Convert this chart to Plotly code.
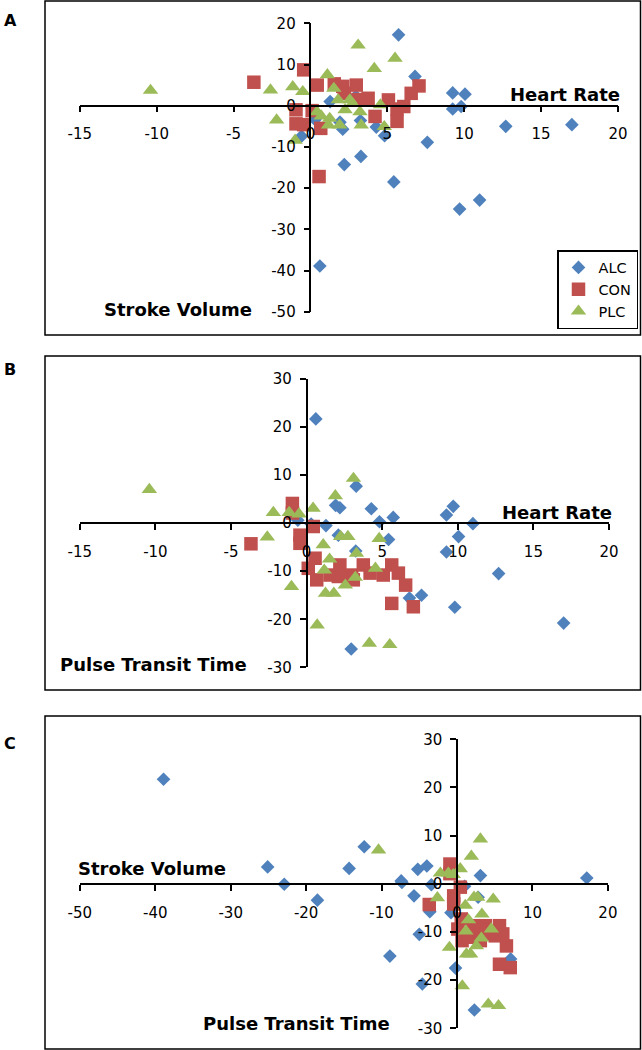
import plotly.graph_objects as go

W, H = 642, 1050

# ---------------- data ----------------
groups = ["ALC", "CON", "PLC"]

alc_hr = [5.73, 6.8, 9.25, 10.05, 9.25, 9.8, 12.7, 17.0, 7.6, 9.7, 11.0, 5.42,
          2.2, 3.28, 0.61, -0.58, 2.1, 4.82, 4.28, 3.25, 1.28, 2.95, 1.92, 0.3]
alc_sv = [17.2, 7.1, 3.1, 2.8, -0.8, -0.2, -5.0, -4.6, -8.9, -25.1, -22.9, -18.5,
          -14.3, -12.3, -38.9, -7.4, -5.7, -7.3, -5.2, -3.6, 1.0, 2.3, -4.0, -3.4]
alc_ptt = [1.2, -15.6, 1.7, -2.8, -6.0, -17.5, -10.5, -20.8, -15.0, 3.5, -0.1, -3.4,
           3.2, 7.7, 21.7, 0.6, -2.5, 0.3, 3.0, -5.8, -0.5, -26.2, 3.7, -0.2]

con_hr = [-3.68, -0.94, -0.94, -0.44, -0.44, 0.11, 0.44, 0.56, 0.67, 1.55, 2.1,
          2.2, 2.98, 3.09, 3.75, 4.2, 5.07, 5.63, 5.63, 6.07, 6.55, 7.06]
con_sv = [5.7, -1.0, -4.4, 8.7, -4.6, -1.2, 5.0, -17.2, -5.5, 5.3, 4.7,
          3.0, 5.0, 1.5, 1.8, -2.6, 1.4, -0.8, -3.8, -0.2, 3.0, 4.8]
con_ptt = [-4.3, 4.1, 2.1, -2.5, -4.2, -9.4, -0.7, -7.3, -11.8, -10.8, -11.1,
           -8.7, -10.8, -11.8, -8.7, -10.4, -10.8, -8.7, -16.7, -10.4, -12.9, -17.4]

plc_hr = [-10.4, -2.6, -2.2, -1.15, -1.0, -0.5, 0.43, 0.7, 1.1, 1.25, 1.17, 1.52,
          1.8, 1.9, 2.25, 2.56, 2.73, 3.1, 3.22, 3.3, 4.15, 4.55, 4.8, 5.5]
plc_sv = [3.7, 3.8, -3.5, 4.6, -8.4, 3.4, -1.5, -2.5, 7.5, -3.1, -4.7, 4.2,
          1.4, -4.7, -1.0, 1.4, 0.5, 14.7, -1.5, -4.7, 9.0, 0.2, -5.1, 11.5]
plc_ptt = [7.0, -2.9, 2.2, 2.2, -13.2, 1.9, 3.1, -21.2, -4.5, -14.6, -9.8, -7.5,
           -14.6, 5.7, -2.8, -12.9, -2.8, 9.3, -11.3, -6.3, -25.0, -9.4, -3.2, -25.3]

# tick values / labels
hr_ticks = [-15, -10, -5, 0, 5, 10, 15, 20]
hr_labels = ["-15", "-10", "-5", "0", "5", "10", "15", "20"]
sv_ticks = [-50, -40, -30, -20, -10, 0, 10, 20]
sv_labels = ["-50", "-40", "-30", "-20", "-10", "0", "10", "20"]
ptt_ticks = [-30, -20, -10, 0, 10, 20, 30]
ptt_labels = ["-30", "-20", "-10", "0", "10", "20", "30"]
svx_ticks = [-50, -40, -30, -20, -10, 0, 10, 20]
svx_labels = ["-50", "-40", "-30", "-20", "-10", "0", "10", "20"]

# what each panel plots (x series, y series) per group, as in the reference
# (in panel C the source figure plots CON and PLC against heart rate)
panel_series = {
    "A": [(alc_hr, alc_sv), (con_hr, con_sv), (plc_hr, plc_sv)],
    "B": [(alc_hr, alc_ptt), (con_hr, con_ptt), (plc_hr, plc_ptt)],
    "C": [(alc_sv, alc_ptt), (con_hr, con_ptt), (plc_hr, plc_ptt)],
}
panel_ticks = {
    "A": ((hr_ticks, hr_labels), (sv_ticks, sv_labels)),
    "B": ((hr_ticks, hr_labels), (ptt_ticks, ptt_labels)),
    "C": ((svx_ticks, svx_labels), (ptt_ticks, ptt_labels)),
}
x_titles = {"A": "Heart Rate", "B": "Heart Rate", "C": "Stroke Volume"}
y_titles = {"A": "Stroke Volume", "B": "Pulse Transit Time", "C": "Pulse Transit Time"}

# ---------------- styling / layout ----------------
colors = ["#4F81BD", "#C0504D", "#9BBB59"]
symbols = ["diamond", "square", "triangle-up"]
sizes = [10.5, 13.5, 13.5]
FONT = "DejaVu Sans, Liberation Sans, Arial, sans-serif"

# panel geometry in pixels
geo = {
    "A": dict(xr=[-15, 20], yr=[-50, 20], x0=79.8, x1=618.0, yt=23.3, yb=311.7,
              frame=(45, 1, 640.5, 335), letter=(10, 20),
              xt=(565, 94), ytl=(178, 309)),
    "B": dict(xr=[-15, 20], yr=[-30, 30], x0=79.8, x1=609.0, yt=379.0, yb=667.3,
              frame=(45, 356, 640.5, 690), letter=(10, 369),
              xt=(557, 512), ytl=(153, 664)),
    "C": dict(xr=[-50, 20], yr=[-30, 30], x0=79.8, x1=607.9, yt=739.3, yb=1028.3,
              frame=(45, 716, 640.5, 1049), letter=(10, 743),
              xt=(152, 868), ytl=(296, 1023)),
}

fig = go.Figure()
layout = dict(width=W, height=H, margin=dict(l=0, r=0, t=0, b=0, pad=0, autoexpand=False),
              paper_bgcolor="white", plot_bgcolor="rgba(0,0,0,0)",
              font=dict(family=FONT, color="black"))
shapes, annotations = [], []

for i, key in enumerate(["A", "B", "C"]):
    g = geo[key]
    n = "" if i == 0 else str(i + 1)
    xd = [g["x0"] / W, g["x1"] / W]
    yd = [1 - g["yb"] / H, 1 - g["yt"] / H]
    ypos = yd[0] + (0 - g["yr"][0]) / (g["yr"][1] - g["yr"][0]) * (yd[1] - yd[0])
    xpos = xd[0] + (0 - g["xr"][0]) / (g["xr"][1] - g["xr"][0]) * (xd[1] - xd[0])
    common = dict(showline=True, linecolor="black", linewidth=1.5, ticks="outside",
                  ticklen=6, tickwidth=1.5, tickcolor="black", showgrid=False,
                  zeroline=False, anchor="free", fixedrange=True,
                  automargin=False, tickmode="array",
                  tickfont=dict(family=FONT, size=15, color="black"))
    (xtv, xtt), (ytv, ytt) = panel_ticks[key]
    layout["xaxis" + n] = dict(common, domain=xd, range=g["xr"], tickvals=xtv, ticktext=xtt,
                               position=ypos, ticklabelstandoff=9)
    layout["yaxis" + n] = dict(common, domain=yd, range=g["yr"], tickvals=ytv, ticktext=ytt,
                               position=xpos, ticklabelstandoff=5)
    for j, (xs, ys) in enumerate(panel_series[key]):
        fig.add_trace(go.Scatter(
            x=xs, y=ys, mode="markers", name=groups[j],
            xaxis="x" + n, yaxis="y" + n, showlegend=(i == 0), cliponaxis=False,
            marker=dict(symbol=symbols[j], size=sizes[j], color=colors[j],
                        line=dict(width=0))))
    fx0, fy0, fx1, fy1 = g["frame"]
    shapes.append(dict(type="rect", xref="paper", yref="paper",
                       x0=fx0 / W, x1=fx1 / W, y0=1 - fy1 / H, y1=1 - fy0 / H,
                       line=dict(color="black", width=1.5), fillcolor="rgba(0,0,0,0)",
                       layer="below"))
    annotations.append(dict(text=key, xref="paper", yref="paper", showarrow=False,
                            x=g["letter"][0] / W, y=1 - g["letter"][1] / H,
                            xanchor="center", yanchor="middle",
                            font=dict(family=FONT, size=16, color="black", weight="bold")))
    for (tx, ty), txt in [(g["xt"], x_titles[key]), (g["ytl"], y_titles[key])]:
        annotations.append(dict(text=txt, xref="paper", yref="paper", showarrow=False,
                                x=tx / W, y=1 - ty / H, xanchor="center", yanchor="middle",
                                font=dict(family=FONT, size=18, color="black", weight="bold")))

layout["shapes"] = shapes
layout["annotations"] = annotations
layout["legend"] = dict(x=557 / W, y=1 - 250 / H, xanchor="left", yanchor="top",
                        bgcolor="white", bordercolor="black", borderwidth=1.5,
                        font=dict(family=FONT, size=14.5, color="black"),
                        itemwidth=30, tracegroupgap=0)
fig.update_layout(**layout)
fig.write_html("out.html", config={"displayModeBar": False},
               post_script="document.body.style.margin='0';document.body.style.overflow='hidden';")
